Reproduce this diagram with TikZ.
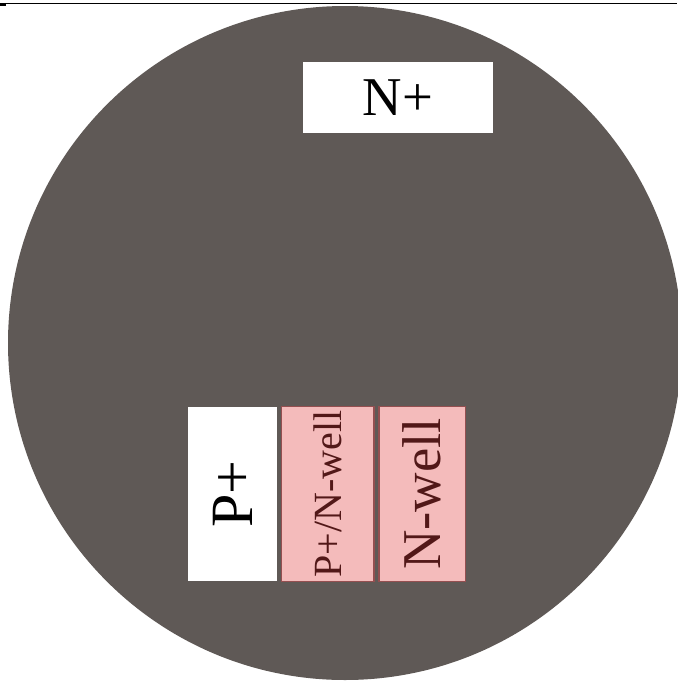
\documentclass[tikz,border=0pt]{standalone}
\usepackage{fontspec}
\setmainfont{Liberation Serif}
\usepackage{tikz}
\usetikzlibrary{positioning}
\definecolor{substrate}{HTML}{5F5956}
\definecolor{wellpink}{HTML}{F4BBBB}
\definecolor{wellline}{HTML}{944F50}
\definecolor{welltext}{HTML}{521818}

\begin{document}
\begin{tikzpicture}[x=0.75pt,y=-0.75pt,
    diffbox/.style={fill=white,inner sep=0pt,minimum width=66.75pt,minimum height=131pt},
    wellbox/.style={fill=wellpink,draw=wellline,line width=1.2pt,text=welltext,inner sep=0pt,minimum height=131pt}]
    \useasboundingbox (0,0) rectangle (678,683);
    \draw[line width=0.9pt] (0,3.5) -- (677,3.5);
    \fill (0,3) rectangle (6,5.5);
    \fill[substrate] (345,343) circle (337);
    \node[fill=white,inner sep=0pt,minimum width=142.5pt,minimum height=53.25pt] (nplus) at (398,97.5)
      {\fontsize{41}{41}\selectfont N+};
    \node[diffbox] (pplus) at (232.5,494)
      {\rotatebox{90}{\fontsize{45}{45}\selectfont P+}};
    \node[wellbox,minimum width=69.5pt,right=2.6pt of pplus] (pwell)
      {\rotatebox{90}{\fontsize{30}{30}\selectfont P+/N-well}};
    \node[wellbox,minimum width=65pt,right=2.2pt of pwell] (nwell)
      {\rotatebox{90}{\fontsize{41}{41}\selectfont N-well}};
  \end{tikzpicture}
\end{document}
